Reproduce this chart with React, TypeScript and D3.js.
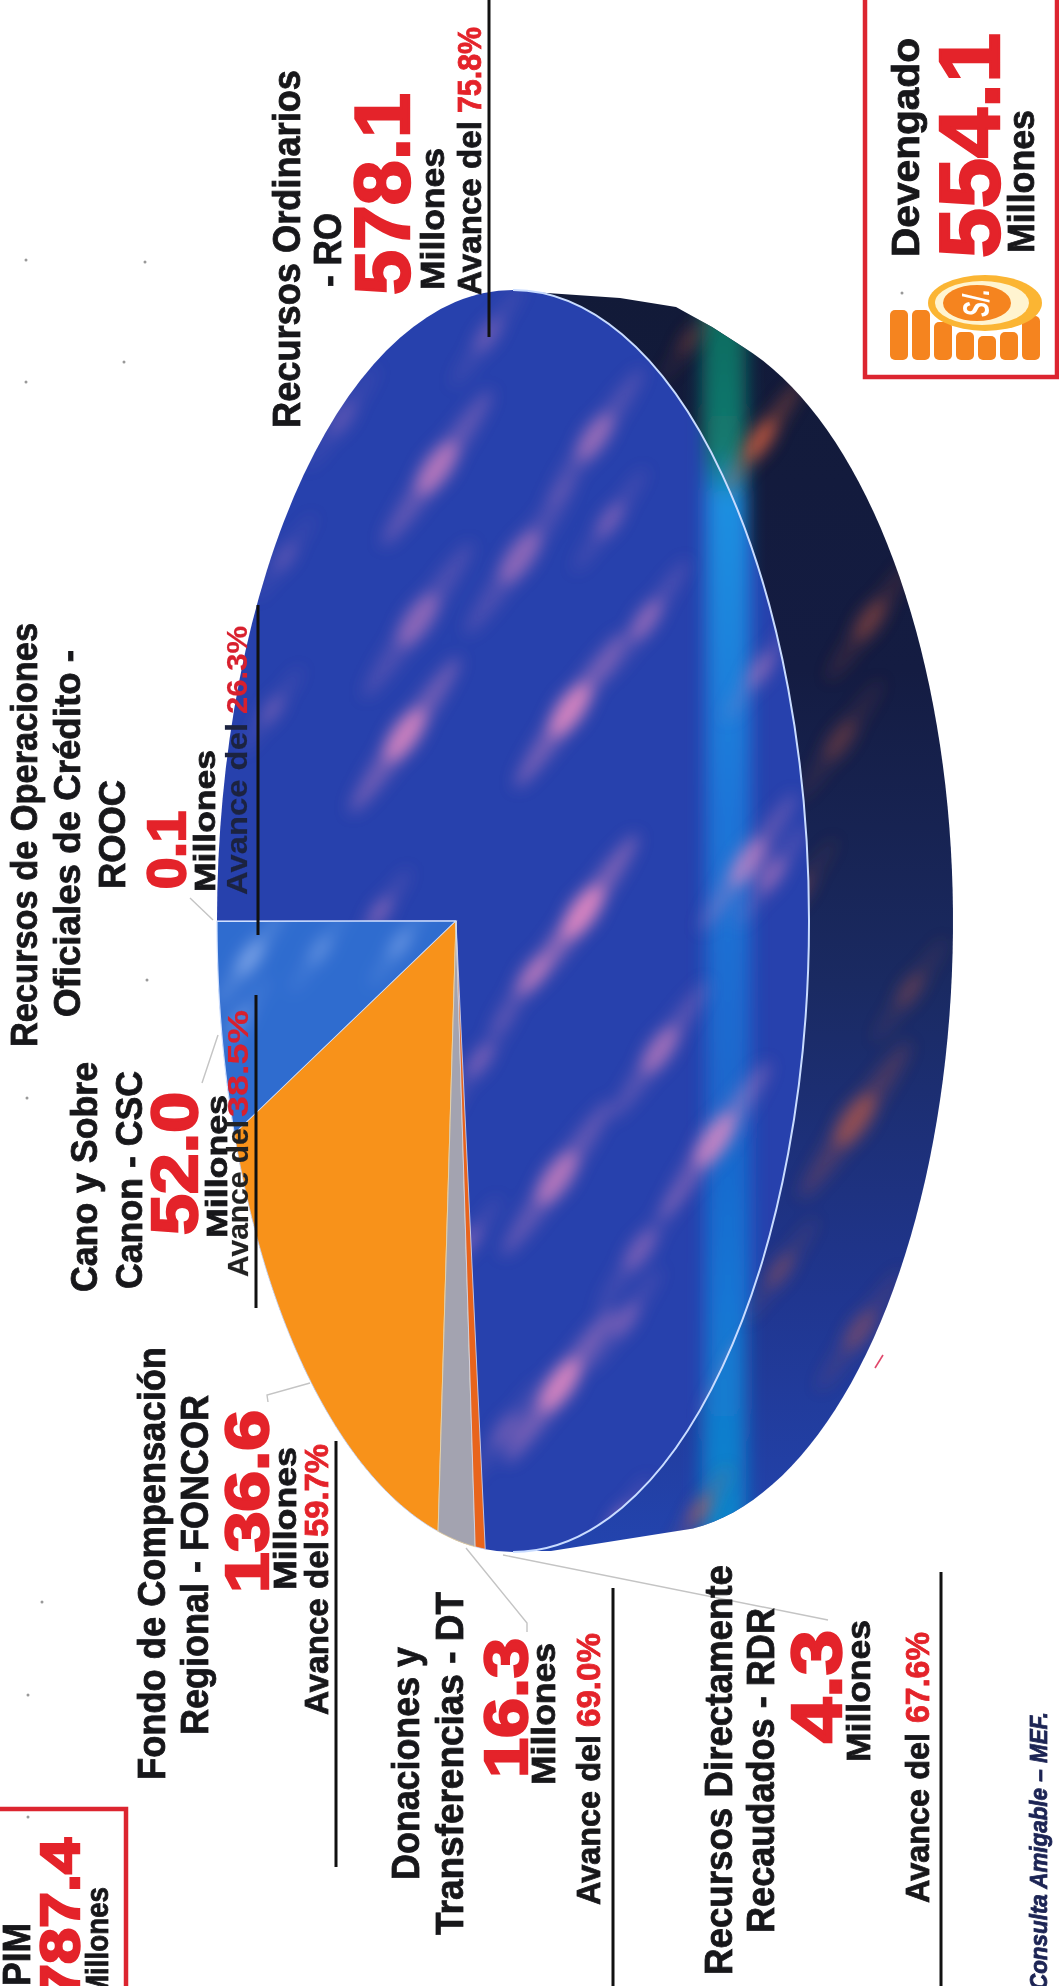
import React from "react";
import * as d3 from "d3";

// ---------- data ----------
const categories = ["ROOC", "CSC", "FONCOR", "DT", "RDR", "RO"];
const pimValues = [0.1, 52.0, 136.6, 16.3, 4.3, 578.1];
const sliceColors = ["#6f9ae8", "#2f6ccf", "#f8921a", "#a3a3b0", "#e8641c", "#2741ad"];

// texture of the photographed pie: [x, y, length, opacity]
const glints = [
  [437, 468, 90, 0.6], [488, 335, 60, 0.25], [595, 437, 80, 0.45], [520, 557, 90, 0.4], [418, 620, 90, 0.4],
  [342, 418, 60, 0.2], [285, 557, 50, 0.2], [405, 735, 90, 0.75], [570, 710, 90, 0.8], [646, 620, 70, 0.4],
  [272, 710, 50, 0.25], [760, 670, 60, 0.35], [748, 862, 80, 0.55], [583, 912, 90, 0.85], [380, 912, 50, 0.35],
  [532, 975, 70, 0.5], [660, 1050, 80, 0.5], [772, 875, 60, 0.4], [715, 1140, 90, 0.7], [557, 1178, 90, 0.6],
  [420, 1150, 70, 0.35], [640, 1250, 70, 0.3], [745, 1358, 70, 0.85], [560, 1385, 90, 0.8], [625, 1320, 60, 0.3],
  [505, 1430, 60, 0.25], [620, 1520, 50, 0.4], [470, 1240, 50, 0.3], [610, 520, 60, 0.3], [480, 1060, 60, 0.3],
];
const sideGlints = [
  [760, 440, 70, 0.7], [870, 620, 70, 0.35], [840, 740, 70, 0.25], [855, 1120, 90, 0.5], [800, 890, 60, 0.22],
  [910, 990, 60, 0.25], [700, 1510, 50, 0.5], [860, 1330, 70, 0.3], [780, 1270, 60, 0.28], [690, 340, 50, 0.25],
];
const cscGlints = [
  [250, 958, 60, 0.5], [320, 950, 50, 0.3], [400, 944, 50, 0.35], [240, 1020, 50, 0.3],
];
const specks = [
  [26, 260], [145, 262], [124, 362], [26, 382], [147, 980], [27, 1098], [42, 1602], [28, 1695], [28, 1817], [902, 293],
];

type T = { s: string; x: number; y0: number; y1: number; fs: number; c?: string; big?: boolean; thin?: boolean; st?: string };
const RED = "#e4232a";
const INK = "#17171a";

const labels: T[] = [
  { s: "Recursos Ordinarios", x: 300, y0: 428, y1: 70, fs: 38 },
  { s: "- RO", x: 341, y0: 287, y1: 213, fs: 38 },
  { s: "578.1", x: 409, y0: 295, y1: 93, fs: 78, c: RED, big: true },
  { s: "Millones", x: 444, y0: 290, y1: 148, fs: 34 },
  { s: "Avance del", x: 481, y0: 295, y1: 121, fs: 34 },
  { s: "75.8%", x: 481, y0: 113, y1: 27, fs: 34, c: RED },

  { s: "Devengado", x: 919, y0: 257, y1: 38, fs: 38 },
  { s: "554.1", x: 999, y0: 258, y1: 33, fs: 86, c: RED, big: true },
  { s: "Millones", x: 1034, y0: 253, y1: 110, fs: 36 },

  { s: "Recursos de Operaciones", x: 37, y0: 1047, y1: 623, fs: 37 },
  { s: "Oficiales de Crédito -", x: 80, y0: 1017, y1: 650, fs: 37 },
  { s: "ROOC", x: 125, y0: 889, y1: 780, fs: 37 },
  { s: "0.1", x: 185, y0: 889, y1: 811, fs: 54, c: RED, big: true },
  { s: "Millones", x: 215, y0: 892, y1: 750, fs: 30 },
  { s: "Avance del", x: 247, y0: 895, y1: 723, fs: 30, c: "#1c2340", thin: true },
  { s: "26.3%", x: 247, y0: 714, y1: 626, fs: 30, c: "#d8202e", thin: true },

  { s: "Cano y Sobre", x: 97, y0: 1292, y1: 1062, fs: 37 },
  { s: "Canon - CSC", x: 142, y0: 1289, y1: 1071, fs: 37 },
  { s: "52.0", x: 197, y0: 1235, y1: 1092, fs: 65, c: RED, big: true },
  { s: "Millones", x: 227, y0: 1238, y1: 1095, fs: 30 },
  { s: "Avance del", x: 248, y0: 1277, y1: 1120, fs: 30, c: "#222", thin: true },
  { s: "38.5%", x: 248, y0: 1117, y1: 1010, fs: 30, c: "#d8202e", thin: true },

  { s: "Fondo de Compensación", x: 165, y0: 1780, y1: 1347, fs: 38 },
  { s: "Regional - FONCOR", x: 208, y0: 1735, y1: 1395, fs: 38 },
  { s: "136.6", x: 268, y0: 1593, y1: 1410, fs: 62, c: RED, big: true },
  { s: "Millones", x: 296, y0: 1590, y1: 1447, fs: 32 },
  { s: "Avance del", x: 328, y0: 1715, y1: 1541, fs: 34 },
  { s: "59.7%", x: 328, y0: 1537, y1: 1444, fs: 34, c: RED },

  { s: "Donaciones y", x: 419, y0: 1880, y1: 1647, fs: 38 },
  { s: "Transferencias - DT", x: 463, y0: 1935, y1: 1592, fs: 38 },
  { s: "16.3", x: 527, y0: 1778, y1: 1638, fs: 62, c: RED, big: true },
  { s: "Millones", x: 555, y0: 1785, y1: 1643, fs: 34 },
  { s: "Avance del", x: 600, y0: 1905, y1: 1735, fs: 34 },
  { s: "69.0%", x: 600, y0: 1727, y1: 1633, fs: 34, c: RED },

  { s: "Recursos Directamente", x: 732, y0: 1975, y1: 1565, fs: 39 },
  { s: "Recaudados - RDR", x: 774, y0: 1933, y1: 1608, fs: 38 },
  { s: "4.3", x: 841, y0: 1743, y1: 1630, fs: 70, c: RED, big: true },
  { s: "Millones", x: 870, y0: 1762, y1: 1620, fs: 34 },
  { s: "Avance del", x: 929, y0: 1903, y1: 1733, fs: 34 },
  { s: "67.6%", x: 929, y0: 1723, y1: 1632, fs: 34, c: RED },

  { s: "PIM", x: 30, y0: 1986, y1: 1923, fs: 38 },
  { s: "787.4", x: 79, y0: 2000, y1: 1838, fs: 56, c: RED, big: true },
  { s: "Millones", x: 108, y0: 1998, y1: 1887, fs: 31 },

  { s: "Consulta Amigable – MEF.", x: 1047, y0: 1990, y1: 1712, fs: 24, c: "#1c2454", st: "italic" },
];

const rules = [
  [489, 0, 337], [258, 605, 935], [256, 995, 1308], [336, 1441, 1867], [613, 1588, 1986], [941, 1572, 1986],
];
const leaders: [number, number][][] = [
  [[213, 920], [190, 898]],
  [[218, 1035], [202, 1083]],
  [[310, 1383], [267, 1395], [268, 1402]],
  [[466, 1548], [527, 1623], [527, 1632]],
  [[503, 1555], [828, 1620]],
];
const coinBars = [
  [898, 310], [920, 310], [942, 322], [964, 332], [986, 336], [1008, 332], [1030, 316],
];

// ---------- pie geometry ----------
const cx = 513, cy = 921, rx = 296, ry = 631;
const depth = 144, ryTop = 600, ryBottom = 612;
const apexX = cx - 57;
const K = 0.824;
const project = (theta: number): [number, number] => {
  const t = 2 * Math.atan2(K * Math.sin(theta / 2), Math.cos(theta / 2));
  return [cx - rx * Math.cos(t), cy + ry * Math.sin(t)];
};
const pieLayout = d3.pie<number>().sort(null)(pimValues);
const line = d3.line();
const slicePath = (a0: number, a1: number) => {
  const n = Math.max(2, Math.ceil((a1 - a0) / 0.02));
  const pts: [number, number][] = [[apexX, cy]];
  d3.range(n + 1).forEach((i) => pts.push(project(a0 + ((a1 - a0) * i) / n)));
  return line(pts) + "Z";
};
const topEllipse = `M${cx - rx},${cy}A${rx},${ry} 0 1 0 ${cx + rx},${cy}A${rx},${ry} 0 1 0 ${cx - rx},${cy}Z`;
const rimArc = `M${cx},${cy - ry}A${rx},${ry} 0 0 1 ${cx},${cy + ry}`;
const sidePts: [number, number][] = [[cx, cy - ry + 1], [547, 293], [620, 298], [676, 307], [712, 327]];
d3.range(-73, 85, 2).forEach((d) => {
  const a = (d * Math.PI) / 180;
  sidePts.push([cx + depth + rx * Math.cos(a), cy + (d < 0 ? ryTop : ryBottom) * Math.sin(a)]);
});
sidePts.push([551, cy + ry - 1]);
sidePts.push([cx, cy + ry - 1]);
sidePts.push([cx - 20, cy]);
const sidePath = line(sidePts) + "Z";

const Label = ({ t }: { t: T }) => {
  const fill = t.c ?? INK;
  return (
    <text
      transform={`translate(${t.x},${t.y0}) rotate(-90)`}
      textLength={t.y0 - t.y1}
      lengthAdjust="spacingAndGlyphs"
      fontFamily="'Liberation Sans', Arial, sans-serif"
      fontWeight={700}
      fontStyle={t.st ?? "normal"}
      fontSize={t.fs}
      fill={fill}
      stroke={fill}
      strokeWidth={t.big ? 2.4 : t.thin ? 0.2 : 0.8}
    >
      {t.s}
    </text>
  );
};

const Glint = ({ g, color }: { g: number[]; color: string }) => {
  const rot = `rotate(-55 ${g[0]} ${g[1]})`;
  return (
    <g>
      <ellipse cx={g[0]} cy={g[1]} rx={g[2] * 1.05} ry={g[2] * 0.13} transform={rot} fill={color} opacity={g[3] * 0.5} />
      <ellipse cx={g[0]} cy={g[1]} rx={g[2] * 0.34} ry={g[2] * 0.15} transform={rot} fill={color} opacity={g[3]} />
    </g>
  );
};

export default function App() {
  return (
    <svg
      width={1059}
      height={1986}
      viewBox="0 0 1059 1986"
      style={{ position: "absolute", left: 0, top: 0, background: "#fff", display: "block" }}
    >
      <defs>
        <linearGradient id="side" x1="0" y1="0" x2="0" y2="1">
          <stop offset="0" stopColor="#121a38" />
          <stop offset="0.3" stopColor="#141c42" />
          <stop offset="0.55" stopColor="#1a2a62" />
          <stop offset="0.8" stopColor="#203690" />
          <stop offset="1" stopColor="#2344ae" />
        </linearGradient>
        <linearGradient id="band" x1="0" y1="0" x2="0" y2="1">
          <stop offset="0" stopColor="#0d6a5e" />
          <stop offset="0.12" stopColor="#137a70" />
          <stop offset="0.16" stopColor="#1b8fe0" />
          <stop offset="0.4" stopColor="#1b76d8" />
          <stop offset="0.65" stopColor="#1a66cc" />
          <stop offset="0.8" stopColor="#1476d4" />
          <stop offset="1" stopColor="#0f85c8" />
        </linearGradient>
        <filter id="blurG" x="-50%" y="-50%" width="200%" height="200%"><feGaussianBlur stdDeviation="8" /></filter>
        <filter id="blurBand" x="-50%" y="-5%" width="200%" height="110%"><feGaussianBlur stdDeviation="9" /></filter>
        <clipPath id="topClip"><path d={topEllipse} /></clipPath>
        <clipPath id="sideClip"><path d={sidePath} /></clipPath>
        <clipPath id="cscClip"><path d={slicePath(pieLayout[1].startAngle, pieLayout[1].endAngle)} /></clipPath>
      </defs>

      {/* depth of the pie */}
      <path d={sidePath} fill="url(#side)" />
      <g clipPath="url(#sideClip)">
        <rect x={702} y={300} width={44} height={1250} fill="url(#band)" filter="url(#blurBand)" />
        <g filter="url(#blurG)">
          {sideGlints.map((g, i) => <Glint key={i} g={g} color="#d8603f" />)}
        </g>
      </g>

      {/* slices */}
      <path d={topEllipse} fill={sliceColors[5]} />
      <g clipPath="url(#topClip)">
        <rect x={706} y={300} width={44} height={1250} fill="url(#band)" filter="url(#blurBand)" />
        <g filter="url(#blurG)">
          {glints.map((g, i) => <Glint key={i} g={g} color="#ea8cc2" />)}
        </g>
      </g>
      {pieLayout.slice(0, 5).map((a, i) => (
        <path
          key={categories[i]}
          d={slicePath(a.startAngle, a.endAngle)}
          fill={sliceColors[i]}
          stroke={i === 3 ? "#f2d9a0" : "#cfe0ff"}
          strokeWidth={i === 1 ? 1.2 : 0.8}
        />
      ))}
      <g clipPath="url(#cscClip)">
        <g filter="url(#blurG)">
          {cscGlints.map((g, i) => <Glint key={i} g={g} color="#a9c4f5" />)}
        </g>
      </g>
      <path d={rimArc} fill="none" stroke="#c9dcff" strokeWidth={2} />

      {/* leaders and rules */}
      {leaders.map((l, i) => (
        <path key={i} d={line(l) ?? ""} fill="none" stroke="#c4c4c4" strokeWidth={1.4} />
      ))}
      <path d="M875,1368L883,1355" stroke="#e0466a" strokeWidth={1.6} />
      {rules.map((r, i) => (
        <line key={i} x1={r[0]} x2={r[0]} y1={r[1]} y2={r[2]} stroke="#111" strokeWidth={3} />
      ))}

      {/* boxes */}
      <rect x={865} y={-20} width={192} height={397} fill="none" stroke="#dc2530" strokeWidth={4.5} />
      <rect x={-20} y={1809} width={146} height={200} fill="none" stroke="#dc2530" strokeWidth={4.5} />

      {/* coin icon */}
      {coinBars.map((b, i) => (
        <rect key={i} x={b[0] - 8} y={b[1]} width={18} height={360 - b[1]} rx={5} fill="#f5841f" />
      ))}
      <ellipse cx={985} cy={303} rx={57} ry={28} fill="#fbb533" />
      <ellipse cx={982} cy={303} rx={47} ry={22} fill="#fff4d0" />
      <ellipse cx={977} cy={303} rx={34} ry={18} fill="#f5841f" />
      <text
        transform="translate(989,303) rotate(-90) scale(0.62,1)"
        textAnchor="middle"
        fontFamily="'Liberation Sans', sans-serif"
        fontWeight={700}
        fontStyle="italic"
        fontSize={36}
        fill="#fff"
      >
        S/.
      </text>

      {labels.map((t, i) => <Label key={i} t={t} />)}

      {specks.map((s, i) => <circle key={i} cx={s[0]} cy={s[1]} r={1.5} fill="#999" />)}
    </svg>
  );
}
